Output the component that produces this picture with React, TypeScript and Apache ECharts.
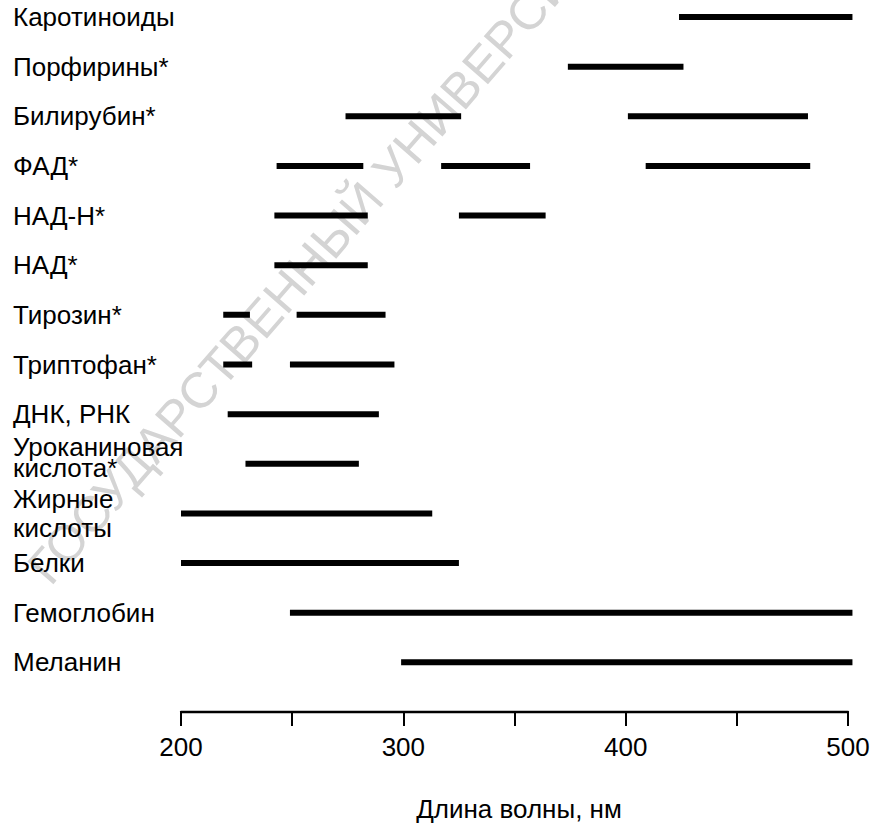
import React, { useEffect, useRef } from "react";
import * as echarts from "echarts";

// Substances, listed top to bottom
const categories = [
  "Каротиноиды",
  "Порфирины*",
  "Билирубин*",
  "ФАД*",
  "НАД-Н*",
  "НАД*",
  "Тирозин*",
  "Триптофан*",
  "ДНК, РНК",
  "Уроканиновая\nкислота*",
  "Жирные\nкислоты",
  "Белки",
  "Гемоглобин",
  "Меланин",
];

// Absorption ranges (nm) for each substance, same order as categories
const ranges: number[][][] = [
  [[424, 502]],
  [[374, 426]],
  [[274, 326], [401, 482]],
  [[243, 282], [317, 357], [409, 483]],
  [[242, 284], [325, 364]],
  [[242, 284]],
  [[219, 231], [252, 292]],
  [[219, 232], [249, 296]],
  [[221, 289]],
  [[229, 280]],
  [[200, 313]],
  [[200, 325]],
  [[249, 502]],
  [[299, 502]],
];

// Wavelength axis
const xMin = 200;
const xMax = 500;
const xStep = 50;
const xLabelStep = 100;

const axisTitle = "Длина волны, нм";
const watermarkText = "ГОСУДАРСТВЕННЫЙ УНИВЕРСИТЕТ";

const FONT = "'Liberation Sans', Arial, Helvetica, sans-serif";

// Rich-text styles for the two-line labels
const labelStyleKey: Record<string, string> = {
  "Уроканиновая\nкислота*": "tight",
  "Жирные\nкислоты": "loose",
};

export default function App() {
  const ref = useRef<HTMLDivElement>(null);

  useEffect(() => {
    if (!ref.current) return;
    const chart = echarts.init(ref.current, undefined, { renderer: "svg" });

    const segData: number[][] = [];
    ranges.forEach((segs, row) => {
      segs.forEach(([s, e]) => segData.push([s, e, row]));
    });

    const option: echarts.EChartsCoreOption = {
      animation: false,
      backgroundColor: "#ffffff",
      grid: { left: 181, right: 26, top: 17, height: 695, outerBoundsMode: "none", containLabel: false },
      graphic: [
        {
          type: "text",
          x: 38,
          y: 576,
          rotation: (49 * Math.PI) / 180,
          z: -10,
          silent: true,
          style: {
            text: watermarkText,
            fontSize: 50,
            fontFamily: FONT,
            fill: "#d4d4d4",
            textAlign: "left",
            textVerticalAlign: "middle",
          },
        },
      ],
      xAxis: {
        type: "value",
        min: xMin,
        max: xMax,
        interval: xStep,
        splitLine: { show: false },
        axisLine: { show: true, onZero: false, lineStyle: { color: "#000", width: 2.3 } },
        axisTick: { show: true, length: 14, lineStyle: { color: "#000", width: 2 } },
        axisLabel: {
          formatter: (v: number) => (v % xLabelStep === 0 ? String(v) : ""),
          fontSize: 26,
          fontFamily: FONT,
          color: "#000",
          margin: 22,
        },
        name: axisTitle,
        nameLocation: "middle",
        nameGap: 84,
        nameTextStyle: { fontSize: 26, fontFamily: FONT, color: "#000", padding: [0, 0, 0, 9] },
      },
      yAxis: {
        type: "value",
        inverse: true,
        min: 0,
        max: categories.length,
        interval: 1,
        splitLine: { show: false },
        axisLine: { show: false },
        axisTick: { show: false },
        axisLabel: {
          align: "left",
          margin: 168,
          fontSize: 26,
          fontFamily: FONT,
          color: "#000",
          formatter: (v: number) => {
            const name = categories[v];
            if (!name) return "";
            const key = labelStyleKey[name];
            return key ? `{${key}|${name}}` : name;
          },
          rich: {
            tight: {
              fontSize: 26,
              fontFamily: FONT,
              color: "#000",
              lineHeight: 21,
              padding: [0, 0, 12, 0],
            },
            loose: {
              fontSize: 26,
              fontFamily: FONT,
              color: "#000",
              lineHeight: 29,
            },
          },
        },
      },
      series: [
        {
          type: "custom",
          clip: false,
          encode: { x: [0, 1], y: 2 },
          data: segData,
          renderItem: (params: any, api: any) => {
            const row = api.value(2);
            const a = api.coord([api.value(0), row]);
            const b = api.coord([api.value(1), row]);
            return {
              type: "rect",
              shape: { x: a[0], y: a[1] - 3, width: b[0] - a[0], height: 6 },
              style: { fill: "#000" },
            };
          },
        },
      ],
    };

    chart.setOption(option);
    return () => chart.dispose();
  }, []);

  return (
    <div
      ref={ref}
      style={{ position: "fixed", left: 0, top: 0, width: 874, height: 823, background: "#fff" }}
    />
  );
}
